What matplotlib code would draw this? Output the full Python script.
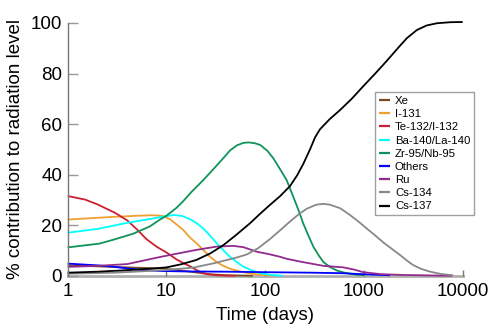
import numpy as np
import matplotlib
matplotlib.use("Agg")
import matplotlib.pyplot as plt

plt.rcParams['font.family'] = ['Liberation Sans', 'DejaVu Sans']

# days, % contribution
xe_t = [1, 2, 4, 8.6, 12, 17.4, 22, 27.6, 40, 75]
xe_v = [4.2, 3.8, 3.4, 3.0, 2.5, 1.7, 1.2, 0.7, 0.3, 0.1]

i131_t = [1, 2, 3, 4, 5, 7, 9, 10.9, 13, 14.8, 17, 20.2, 24, 27.6, 32, 37.7, 44, 51.5, 62, 75.6, 95, 120]
i131_v = [22.3, 23.0, 23.4, 23.6, 23.8, 24.0, 23.8, 22.4, 20.0, 18.2, 15.5, 12.9, 10.0, 7.6, 5.6, 4.0, 2.9, 2.1, 1.4, 0.8, 0.4, 0.1]

te132_t = [1, 1.5, 2, 3, 4, 5, 6.3, 8, 10, 12.7, 15, 17.4, 20, 23, 27, 32, 40, 50]
te132_v = [31.6, 30.2, 28.3, 25.0, 22.0, 18.5, 14.5, 11.5, 9.3, 6.5, 5.0, 3.8, 2.4, 1.2, 0.6, 0.3, 0.15, 0.1]

ba140_t = [1, 2, 4, 7, 10, 12, 14.5, 17.4, 20, 23.6, 27.6, 32.3, 38, 44, 51.5, 60, 72, 89, 115, 150]
ba140_v = [17.1, 18.6, 21.0, 22.6, 23.7, 24.1, 23.7, 22.4, 21.0, 18.8, 16.0, 12.9, 10.0, 7.6, 5.5, 3.7, 2.3, 1.1, 0.4, 0.1]

zr95_t = [1, 2.1, 3, 4.6, 6.8, 8.6, 10, 12.7, 14.8, 18, 23.6, 30, 37.7, 44, 51.5, 60, 67.5, 78, 89, 105, 121, 140,
          165, 193, 220, 243, 275, 308, 350, 389, 450, 529, 620, 720, 850, 1000]
zr95_v = [11.3, 12.8, 14.5, 16.7, 19.6, 22.3, 23.8, 27.0, 29.6, 33.3, 37.9, 42.3, 46.6, 49.6, 51.6, 52.6, 52.8, 52.5,
          51.8, 49.5, 46.5, 42.5, 37.9, 31.2, 25.5, 20.7, 15.8, 11.5, 8.0, 5.5, 3.6, 2.2, 1.4, 0.9, 0.5, 0.3]

others_t = [1, 2, 2.7, 4, 6, 8.6, 15, 40, 100, 300, 600, 984, 1400, 1840]
others_v = [4.9, 4.2, 3.8, 3.0, 2.3, 2.0, 1.8, 1.7, 1.5, 1.3, 1.1, 0.7, 0.45, 0.3]

ru_t = [1, 2, 4, 8.6, 10.9, 20, 32, 47.5, 60, 82, 110, 141, 165, 225, 389, 620, 800, 984, 1500, 2500, 5000, 7800]
ru_v = [3.6, 4.0, 4.7, 7.5, 8.3, 10.3, 11.6, 11.9, 11.4, 9.6, 8.6, 7.6, 6.8, 5.7, 4.0, 3.4, 2.5, 1.5, 0.7, 0.4, 0.2, 0.1]

cs134_t = [1, 3, 6, 10, 18.6, 30, 51.5, 65, 85, 111, 141, 178, 220, 264, 330, 389, 450, 573, 700, 843, 1050, 1346,
           1600, 1980, 2320, 2700, 3150, 3800, 4680, 6000, 7400, 8000]
cs134_v = [0.9, 1.3, 1.9, 2.4, 3.3, 5.0, 7.3, 8.5, 11.0, 14.5, 18.0, 21.5, 24.5, 26.6, 28.2, 28.5, 28.2, 26.8, 24.5,
           22.1, 19.0, 15.5, 13.0, 10.3, 8.3, 6.2, 4.3, 2.8, 1.7, 0.8, 0.4, 0.3]

cs137_t = [1, 2, 4, 7, 10, 14, 20, 28, 38, 50, 70, 90, 111, 141, 178, 210, 243, 284, 320, 359, 450, 573, 750, 984,
           1300, 1700, 2200, 2720, 3430, 4300, 5490, 7500, 10000]
cs137_v = [1.3, 1.7, 2.3, 2.9, 3.4, 4.6, 6.3, 9.0, 12.3, 16.0, 20.8, 24.8, 28.0, 31.5, 35.5, 39.7, 44.3, 50.0, 54.8,
           58.0, 62.0, 65.6, 70.0, 75.0, 80.0, 85.0, 90.0, 94.0, 97.2, 99.0, 99.9, 100.3, 100.4]

series = [
    ("Xe", xe_t, xe_v, "#7a4a22"),
    ("I-131", i131_t, i131_v, "#f0a030"),
    ("Te-132/I-132", te132_t, te132_v, "#cc2030"),
    ("Ba-140/La-140", ba140_t, ba140_v, "#00ffff"),
    ("Zr-95/Nb-95", zr95_t, zr95_v, "#10935a"),
    ("Others", others_t, others_v, "#0000ff"),
    ("Ru", ru_t, ru_v, "#932a8e"),
    ("Cs-134", cs134_t, cs134_v, "#888888"),
    ("Cs-137", cs137_t, cs137_v, "#000000"),
]

fig = plt.figure(figsize=(5, 3.34), dpi=100)
ax = fig.add_axes([0.1354, 0.1737, 0.79, 0.7575])

for name, t, v, c in series:
    ax.plot(t, v, color=c, lw=1.3, label=name, clip_on=False, solid_capstyle='butt')

ax.set_xscale('log')
ax.set_xlim(1, 10000)
ax.set_ylim(0, 100)
ax.set_xticks([1, 10, 100, 1000, 10000])
ax.set_xticklabels(["1", "10", "100", "1000", "10000"])
ax.xaxis.set_minor_locator(matplotlib.ticker.NullLocator())
ax.set_yticks([0, 20, 40, 60, 80, 100])

for s in ['top', 'right']:
    ax.spines[s].set_visible(False)
ax.spines['left'].set_color('#777777')
ax.spines['left'].set_linewidth(1.0)
ax.spines['bottom'].set_color('#b0b0b0')
ax.spines['bottom'].set_linewidth(2.0)
ax.spines['bottom'].set_zorder(0.5)

ax.tick_params(axis='y', direction='in', length=7, width=1, color='#999999', labelsize=13.5, pad=4)
ax.tick_params(axis='x', direction='in', length=4, width=1, color='#777777', labelsize=13.5, pad=5)

ax.set_xlabel("Time (days)", fontsize=13.5, labelpad=5)
ax.set_ylabel("% contribution to radiation level", fontsize=13.5, labelpad=5)

leg = ax.legend(loc='upper left', bbox_to_anchor=(375 / 500, 1 - 92 / 334), bbox_transform=fig.transFigure,
                borderaxespad=0, fontsize=8.2, frameon=True, fancybox=False, handlelength=1.0,
                handletextpad=0.4, labelspacing=0.28, borderpad=0.35)
leg.get_frame().set_edgecolor('#888888')
leg.get_frame().set_linewidth(1.0)
for line in leg.get_lines():
    line.set_linewidth(1.6)

fig.savefig("out.png", dpi=100)
